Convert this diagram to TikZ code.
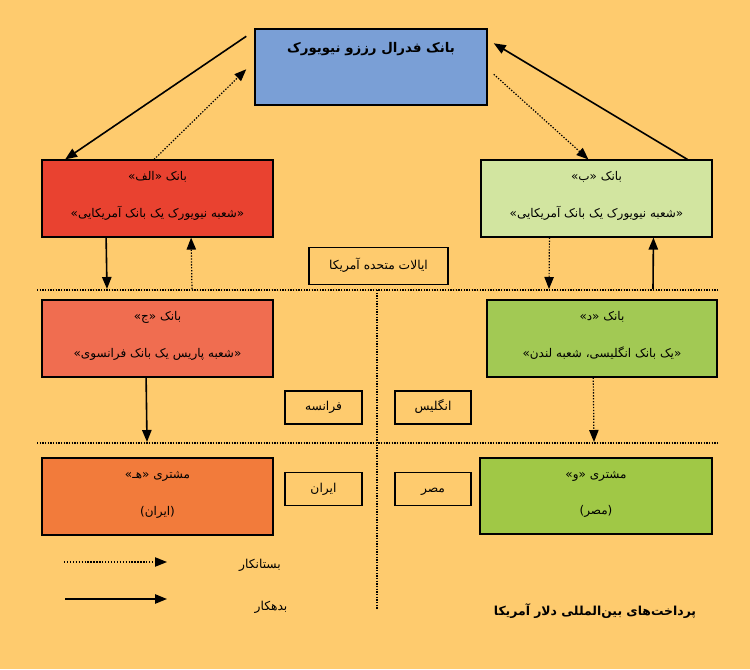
\documentclass[tikz,border=0pt]{standalone}
\usepackage{fontspec}
\newfontfamily\fafont[Script=Arabic]{DejaVu Sans}
\TeXXeTstate=1
\usetikzlibrary{arrows.meta,calc}
\definecolor{bgc}{RGB}{254,203,110}
\definecolor{fedblue}{RGB}{122,159,214}
\definecolor{bankred}{RGB}{233,66,48}
\definecolor{banklgreen}{RGB}{210,229,160}
\definecolor{banksalmon}{RGB}{240,109,80}
\definecolor{bankgreen}{RGB}{162,201,84}
\definecolor{custorange}{RGB}{242,123,59}
\definecolor{custgreen}{RGB}{160,200,70}
\newcommand{\fatext}[1]{\beginR #1\endR}
\tikzset{
  bankbox/.style={draw=black, line width=1.1pt, rectangle, inner sep=0pt, minimum width=173.5pt, minimum height=57.5pt},
  landbox/.style={draw=black, line width=1.1pt, rectangle, inner sep=0pt, minimum height=24.5pt},
  btxt/.style={inner sep=0pt, text height=7pt, text depth=2.5pt, font=\fafont\fontsize{9}{11}\selectfont},
  ltxt/.style={inner sep=0pt, text height=7pt, text depth=2.5pt, font=\fafont\fontsize{9.2}{11}\selectfont},
  fedtxt/.style={inner sep=0pt, text height=8pt, text depth=3pt, font=\fafont\bfseries\fontsize{10}{12}\selectfont},
  debt/.style={line width=1.2pt, -{Triangle[length=9pt,width=7pt]}},
  cred/.style={line width=0.9pt, dash pattern=on 1pt off 1.2pt, -{Triangle[length=9pt,width=7pt]}},
  sepline/.style={line width=0.8pt, dash pattern=on 1pt off 1pt},
}
\begin{document}
\begin{tikzpicture}[x=0.75pt,y=-0.75pt]
\fill[bgc] (0,0) rectangle (750,669);
\useasboundingbox (0,0) rectangle (750,669);

% separator lines
\draw[sepline] (37,290) -- (718,290);
\draw[sepline] (37,443) -- (718,443);
\draw[sepline] (377,290) -- (377,610);

% boxes
\node[bankbox, fill=fedblue, minimum width=174pt, minimum height=57pt] (fed) at (371,67) {};
\node[fedtxt] (fedt) at ($(fed.north)+(0,21)$) {\fatext{بانک فدرال رززو نیویورک}};

\node[bankbox, fill=bankred] (bankA) at (157.5,198.5) {};
\node[btxt] (bankAt1) at ($(bankA.north)+(0,18)$) {\fatext{بانک «الف»}};
\node[btxt] (bankAt2) at ($(bankA.south)+(0,-23)$) {\fatext{«شعبه نیویورک یک بانک آمریکایی»}};

\node[bankbox, fill=banklgreen, minimum width=173pt] (bankB) at (596.5,198.5) {};
\node[btxt] (bankBt1) at ($(bankB.north)+(0,18)$) {\fatext{بانک «ب»}};
\node[btxt] (bankBt2) at ($(bankB.south)+(0,-23)$) {\fatext{«شعبه نیویورک یک بانک آمریکایی»}};

\node[landbox, minimum width=104pt, minimum height=28pt] (usa) at (378.5,266) {};
\node[ltxt] (usat) at (usa.center) {\fatext{ایالات متحده آمریکا}};

\node[bankbox, fill=banksalmon] (bankC) at (157.5,338.5) {};
\node[btxt] (bankCt1) at ($(bankC.north)+(0,18)$) {\fatext{بانک «ج»}};
\node[btxt] (bankCt2) at ($(bankC.south)+(0,-23)$) {\fatext{«شعبه پاریس یک بانک فرانسوی»}};

\node[bankbox, fill=bankgreen, minimum width=172.5pt] (bankD) at (602,338.5) {};
\node[btxt] (bankDt1) at ($(bankD.north)+(0,18)$) {\fatext{بانک «د»}};
\node[btxt] (bankDt2) at ($(bankD.south)+(0,-23)$) {\fatext{«یک بانک انگلیسی، شعبه لندن»}};

\node[landbox, minimum width=57.5pt] (france) at (323.5,407.5) {};
\node[ltxt] (francet) at (france.center) {\fatext{فرانسه}};
\node[landbox, minimum width=57pt] (england) at (433,407.5) {};
\node[ltxt] (englandt) at (england.center) {\fatext{انگلیس}};

\node[bankbox, fill=custorange] (custE) at (157.5,496.5) {};
\node[btxt] (custEt1) at ($(custE.north)+(0,18)$) {\fatext{مشتری «هـ»}};
\node[btxt] (custEt2) at ($(custE.south)+(0,-23)$) {\fatext{(ایران)}};

\node[landbox, minimum width=57.5pt] (iran) at (323.5,489) {};
\node[ltxt] (irant) at (iran.center) {\fatext{ایران}};
\node[landbox, minimum width=57pt] (egypt) at (433,489) {};
\node[ltxt] (egyptt) at (egypt.center) {\fatext{مصر}};

\node[bankbox, fill=custgreen, minimum width=174pt, minimum height=57pt] (custF) at (596,496) {};
\node[btxt] (custFt1) at ($(custF.north)+(0,18)$) {\fatext{مشتری «و»}};
\node[btxt] (custFt2) at ($(custF.south)+(0,-23)$) {\fatext{(مصر)}};

% coordinates on separator lines
\coordinate (sA1) at (107,289);
\coordinate (sA2) at (192,289);
\coordinate (sB1) at (549,289);
\coordinate (sB2) at (653,289);
\coordinate (sC) at (147,442);
\coordinate (sD) at (594,442);

% diagonal arrows
\draw[debt] ($(fed.north west)+(-8,8)$) -- ($(bankA.north west)+(24,0)$);
\draw[cred] ($(bankA.north west)+(113,0)$) -- ($(fed.north west)+(-8,41)$);
\draw[debt] ($(bankB.north west)+(207,0)$) -- ($(fed.north east)+(6,15)$);
\draw[cred] ($(fed.north east)+(6,46)$) -- ($(bankB.north west)+(108,0)$);

% vertical arrows
\draw[debt] ($(bankA.south west)+(65,0)$) -- (sA1);
\draw[cred] (sA2) -- ($(bankA.south west)+(150,0)$);
\draw[cred] ($(bankB.south west)+(69,0)$) -- (sB1);
\draw[debt] (sB2) -- ($(bankB.south west)+(173,0)$);
\draw[debt] ($(bankC.south west)+(105,0)$) -- (sC);
\draw[cred] ($(bankD.south west)+(107,0)$) -- (sD);

% legend
\coordinate (lg1s) at (64,562);
\coordinate (lg1e) at (167,562);
\coordinate (lg2s) at (65,599);
\coordinate (lg2e) at (167,599);
\draw[cred] (lg1s) -- (lg1e);
\draw[debt] (lg2s) -- (lg2e);
\node[ltxt] (lgt1) at (260,565) {\fatext{بستانکار}};
\node[ltxt] (lgt2) at (271,607) {\fatext{بدهکار}};

\node[inner sep=0pt, font=\fafont\bfseries\fontsize{9.3}{12}\selectfont] (title) at (595,611) {\fatext{پرداخت^^^^200cهای بین^^^^200cالمللی دلار آمریکا}};
\end{tikzpicture}
\end{document}
